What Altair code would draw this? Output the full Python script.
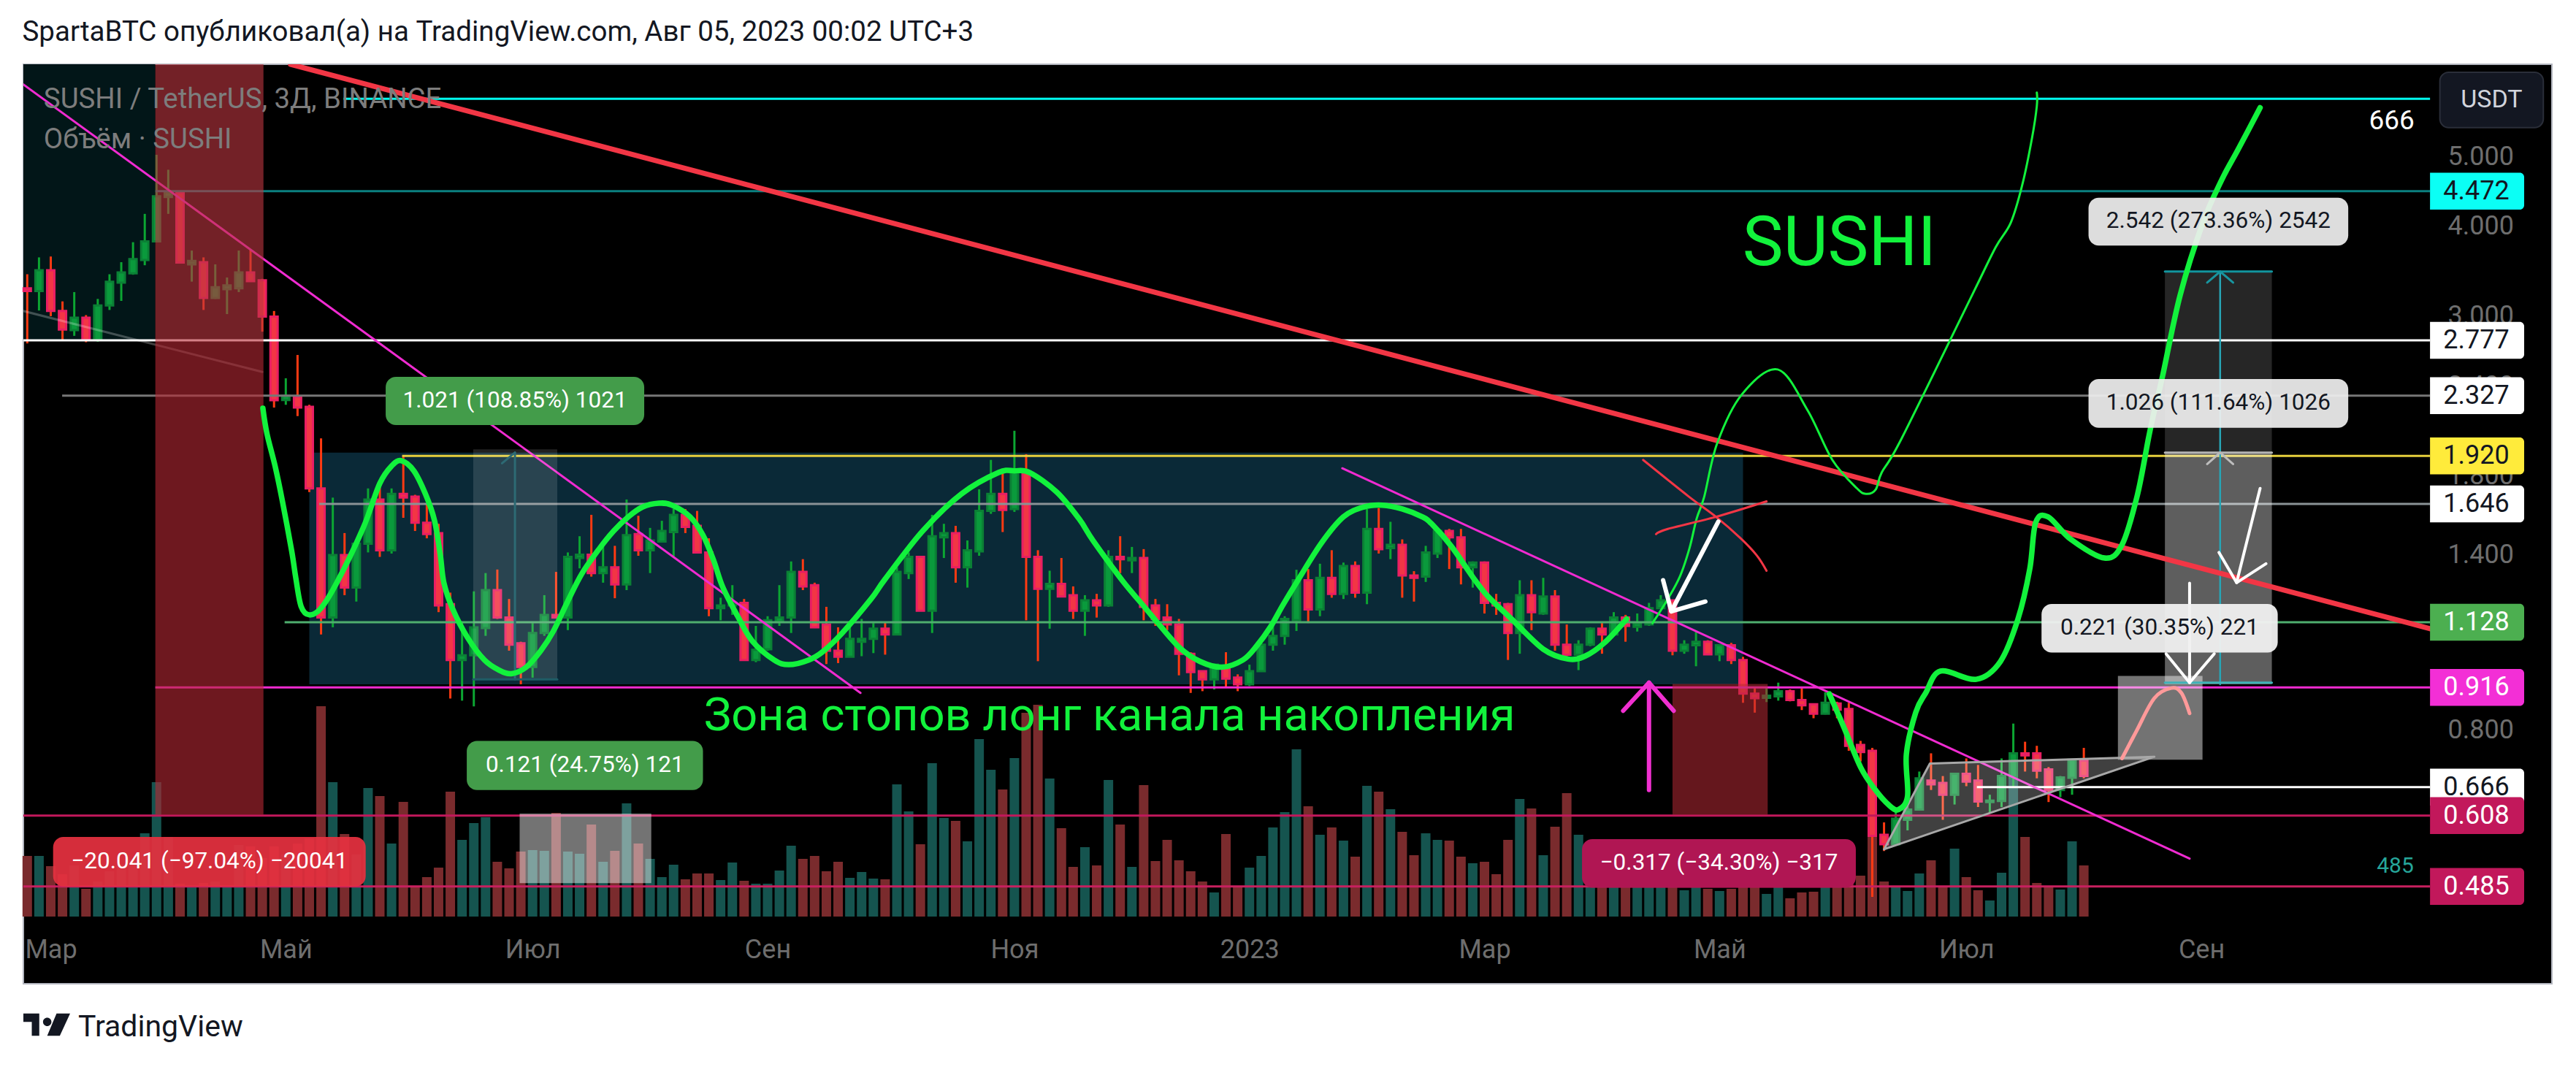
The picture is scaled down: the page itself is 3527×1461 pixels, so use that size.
import math
import altair as alt
import pandas as pd

OPEN = [3.28,3.25,3.475,3.05,2.87,2.985,2.78,3.105,3.34,3.44,
3.59,3.81,4.39,4.45,3.54,3.565,3.18,3.27,3.28,3.45,
3.365,2.995,2.295,2.32,2.245,1.73,1.145,1.398,1.26,1.45,
1.67,1.42,1.70,1.685,1.55,1.50,1.195,1.00,1.015,1.107,
1.25,1.145,1.055,.978,1.09,1.155,1.145,1.385,1.40,1.32,
1.345,1.273,1.495,1.42,1.46,1.505,1.59,1.535,1.41,1.18,
1.19,1.20,1.0,1.035,1.13,1.145,1.325,1.27,1.12,1.03,
1.01,1.06,1.07,1.105,1.085,1.32,1.39,1.17,1.48,1.50,
1.345,1.415,1.61,1.70,1.62,1.82,1.39,1.255,1.275,1.23,
1.17,1.21,1.19,1.39,1.375,1.385,1.19,1.145,1.12,1.02,
.965,.94,.978,.945,.925,.965,1.05,1.08,1.135,1.29,
1.175,1.30,1.235,1.35,1.24,1.52,1.43,1.445,1.31,1.305,
1.405,1.51,1.48,1.345,1.365,1.20,1.195,1.09,1.23,1.16,
1.225,1.05,1.017,1.05,1.105,1.085,1.145,1.112,1.12,1.18,
1.21,1.03,1.048,1.06,1.018,1.048,1.0,.898,.886,.89,
.905,.88,.868,.842,.87,.855,.762,.748,.572,.555,
.60,.62,.68,.675,.65,.695,.68,.635,.637,.687,
.742,.742,.705,.66,.686,.725]
CLOSE = [3.25,3.475,3.05,2.875,2.985,2.78,3.105,3.35,3.45,3.60,
3.81,4.40,4.46,3.56,3.58,3.18,3.29,3.31,3.45,3.355,
2.995,2.293,2.325,2.24,1.73,1.145,1.398,1.26,1.45,1.67,
1.42,1.70,1.68,1.55,1.495,1.19,1.00,1.015,1.11,1.25,
1.145,1.05,.978,1.09,1.155,1.145,1.39,1.40,1.32,1.345,
1.273,1.49,1.42,1.465,1.51,1.59,1.53,1.41,1.18,1.19,
1.20,1.0,1.033,1.135,1.145,1.325,1.265,1.11,1.03,1.01,
1.07,1.07,1.105,1.085,1.325,1.39,1.17,1.485,1.50,1.345,
1.42,1.61,1.70,1.615,1.82,1.39,1.255,1.275,1.225,1.17,
1.21,1.19,1.39,1.38,1.385,1.185,1.14,1.12,1.02,.962,
.94,.985,.942,.925,.965,1.05,1.08,1.14,1.29,1.175,
1.30,1.235,1.35,1.24,1.52,1.425,1.445,1.31,1.30,1.41,
1.51,1.48,1.345,1.365,1.20,1.19,1.09,1.23,1.165,1.225,
1.05,1.017,1.05,1.105,1.085,1.145,1.115,1.125,1.18,1.21,
1.03,1.05,1.06,1.018,1.048,1.0,.898,.885,.892,.905,
.88,.865,.842,.872,.853,.76,.745,.57,.555,.602,
.62,.685,.672,.65,.695,.678,.636,.638,.69,.742,
.737,.702,.66,.687,.727,.69]
HIGH = [3.43,3.62,3.63,3.145,3.24,3.01,3.17,3.43,3.565,3.80,
4.16,5.025,4.79,4.47,3.70,3.62,3.54,3.395,3.70,3.71,
3.38,3.05,2.46,2.65,2.26,2.03,1.68,1.50,1.45,1.73,
1.74,1.73,1.92,1.695,1.65,1.545,1.24,1.13,1.245,1.32,
1.335,1.215,1.06,1.125,1.23,1.325,1.41,1.485,1.59,1.455,
1.44,1.67,1.585,1.525,1.56,1.62,1.62,1.61,1.475,1.22,
1.27,1.215,1.115,1.15,1.27,1.37,1.38,1.28,1.185,1.11,
1.11,1.14,1.125,1.13,1.345,1.41,1.39,1.59,1.545,1.535,
1.465,1.725,1.895,1.82,2.08,1.93,1.42,1.33,1.385,1.265,
1.23,1.235,1.42,1.485,1.435,1.425,1.215,1.195,1.14,1.025,
.965,.985,1.025,.955,.985,1.056,1.115,1.15,1.334,1.337,
1.36,1.42,1.365,1.37,1.62,1.625,1.555,1.47,1.328,1.44,
1.525,1.52,1.52,1.37,1.37,1.235,1.20,1.29,1.29,1.30,
1.25,1.12,1.065,1.11,1.125,1.165,1.155,1.16,1.20,1.23,
1.21,1.065,1.095,1.065,1.05,1.056,1.01,.914,.914,.93,
.91,.914,.868,.902,.875,.872,.772,.755,.595,.62,
.63,.70,.742,.69,.697,.73,.715,.65,.73,.816,
.77,.76,.71,.69,.727,.755]
LOW = [2.75,3.055,3.00,2.78,2.817,2.76,2.765,3.06,3.15,3.425,
3.53,3.81,4.16,3.55,3.35,3.06,3.17,3.02,3.24,3.355,
2.855,2.24,2.26,2.18,1.71,1.085,1.11,1.23,1.205,1.41,
1.39,1.405,1.575,1.51,1.475,1.165,.884,.878,.862,1.08,
1.14,1.03,.925,.945,1.08,1.145,1.10,1.34,1.305,1.28,
1.218,1.25,1.395,1.32,1.46,1.39,1.50,1.405,1.15,1.135,
1.155,.999,.993,1.03,1.115,1.09,1.25,1.107,.987,.99,
1.01,1.012,1.022,1.017,1.085,1.295,1.17,1.09,1.385,1.28,
1.26,1.395,1.595,1.505,1.605,1.135,.996,1.105,1.225,1.14,
1.08,1.145,1.185,1.32,1.32,1.135,1.115,1.10,.952,.90,
.905,.91,.918,.905,.92,.963,1.03,1.05,1.097,1.125,
1.15,1.22,1.215,1.22,1.195,1.405,1.38,1.22,1.205,1.283,
1.385,1.337,1.273,1.26,1.16,1.155,1.0,1.02,1.10,1.155,
1.03,1.012,.968,1.045,1.02,1.085,1.06,1.095,1.115,1.18,
1.015,1.02,.98,1.018,.996,.987,.872,.845,.874,.878,
.876,.852,.83,.84,.83,.748,.723,.469,.543,.553,
.58,.62,.66,.60,.63,.668,.625,.614,.625,.667,
.70,.685,.635,.645,.65,.685]
VOLUME = [83,83,69,58,70,38,48,62,71,78,
114,184,109,45,42,46,48,40,98,96,
80,96,85,100,107,288,184,113,85,176,
165,100,157,42,54,67,171,105,128,136,
75,66,89,91,90,142,89,86,126,75,
90,155,100,79,54,71,51,59,59,50,
74,49,45,45,63,97,79,83,62,75,
53,61,52,51,181,144,99,210,135,131,
103,243,201,174,217,279,290,189,121,68,
95,70,187,126,68,180,76,105,77,62,
48,33,113,41,67,83,122,143,229,151,
112,122,104,82,179,171,147,116,84,114,
105,104,82,73,75,58,105,161,148,84,
123,169,112,70,58,57,55,58,54,49,
54,36,51,38,35,38,51,44,31,54,
25,33,34,40,46,47,56,111,48,41,
35,59,77,42,93,54,36,22,60,190,
109,46,42,37,103,70]

TIME_TICKS = [2,22,43,63,84,104,124,144,165,185]
TIME_LABELS = ["Мар","Май","Июл","Сен","Ноя","2023","Мар","Май","Июл","Сен"]
PRICE_TICKS = [5,4,3,2.4,1.8,1.4,0.8]

LEVEL_PRICE = [6.01,4.472,2.777,2.327,1.92,1.646,1.128,0.916,0.666,0.608,0.485]
LEVEL_START = [26.9,10.9,-0.33,2.97,31.9,24.85,21.9,10.9,165.9,-0.33,-0.33]
LEVEL_COLOR = ["#00fff0","#0b8080","#ffffff","#777777","#e6cf3c","#8a9296","#4fae6e","#f02bd1","#ffffff","#c2185b","#c8205f"]

BOX_PRICE = [4.472,2.777,2.327,1.92,1.646,1.128,0.916,0.666,0.608,0.485]
BOX_FILL = ["#0bfff5","#ffffff","#ffffff","#ffeb3b","#ffffff","#4caf50","#f32fd6","#ffffff","#c2185b","#c2185b"]
BOX_TEXT = ["#131722","#131722","#131722","#131722","#131722","#ffffff","#ffffff","#131722","#ffffff","#ffffff"]

GREEN_A_X = [20.05,20.4,21.1,21.7,22.5,22.85,23.3,24.0,25.0,26.45,28.6,30.0,31.05,31.85,32.9,33.9,34.65,35.15,35.45,36.2,37.45,38.9,40.15,41.2,42.45,43.7,44.75,46.0,47.2,48.65,49.9,51.15,52.35,53.75,54.85,56.4,57.5,58.4,59.2,60.45,61.7,63.55,64.8,66.5,67.7,69.35,71.8,73.0,76.2,79.5,82.65,84.0,85.3,87.6,89.5,90.7,93.2,95.25,96.05,98.05,99.8,101.65,103.45,104.6,105.8,106.85,108.1,110.15,112.0,113.7,115.3,117.0,118.7,119.5,121.15,123.05,124.3,126.3,129.0,131.1,132.55,134.2,136.1]
GREEN_A_P = [2.235,2.06,1.855,1.665,1.417,1.30,1.187,1.155,1.18,1.29,1.527,1.758,1.862,1.89,1.83,1.697,1.563,1.398,1.28,1.177,1.075,1.00,.968,.957,.977,1.03,1.095,1.207,1.318,1.425,1.51,1.58,1.63,1.65,1.64,1.58,1.49,1.375,1.26,1.15,1.062,1.00,.985,1.00,1.027,1.09,1.215,1.295,1.51,1.70,1.82,1.83,1.82,1.71,1.57,1.464,1.288,1.175,1.133,1.04,.995,.977,1.0,1.045,1.112,1.192,1.288,1.455,1.58,1.63,1.64,1.62,1.58,1.545,1.44,1.30,1.225,1.14,1.035,1.003,1.012,1.056,1.14]
GREEN_B_X = [153.35,154.6,156,157.2,158.45,159.25,160,159.9,160.7,161.55,162.8,165.85,167.9,169.4,170.4,170.9,171.95,173.9,176.75,178.25,179.55,180.5,180.9,181.7,183.2,185.15,186.8,188.1,190]
GREEN_B_P = [.897,.805,.71,.662,.628,.62,.647,.74,.846,.90,.965,.94,.995,1.14,1.337,1.55,1.58,1.47,1.385,1.445,1.692,2.03,2.18,2.477,3.21,4.05,4.66,5.10,5.84]
THIN_X = [138.3,139.6,140.65,141.45,142.05,142.7,143.8,145.9,148.95,151.5,153.6,155.7,156.5,157.3,157.8,159.5,165.5,167.5,168.8,169.8,170.6,171,171]
THIN_P = [1.125,1.215,1.308,1.43,1.57,1.685,1.998,2.336,2.53,2.22,1.895,1.73,1.70,1.725,1.82,2.03,3.21,3.74,4.05,4.59,5.31,5.87,6.13]
RED_A_X = [138.6,139.6,143.7,148]
RED_A_P = [1.495,1.52,1.58,1.66]
RED_B_X = [137.5,141.4,143.7,145.8,147.15,148]
RED_B_P = [1.895,1.685,1.58,1.475,1.398,1.33]
PINK_X = [178.25,179.5,181,182.45,183.3,184]
PINK_P = [.73,.798,.885,.914,.90,.843]

# Widths and heights of the drawing
W, H = 3462, 1259
X_DOM = [-0.33, 214.83]
P_DOM = [0.3553, 6.71]
V_DOM = [-92, 1167]
XEND = 204.46
FONT = "Roboto"

XS = alt.Scale(domain=X_DOM, nice=False, zero=False, padding=0)
PS = alt.Scale(type="log", domain=P_DOM, nice=False, zero=False, padding=0)

def X(f="x"):
    return alt.X(f, type="quantitative", scale=XS, axis=None)

def Y(f="y"):
    return alt.Y(f, type="quantitative", scale=PS, axis=None)

def rect(x0, x1, p0, p1, color, opacity=1.0, **kw):
    d = pd.DataFrame({"x": [x0], "x2": [x1], "y": [p0], "y2": [p1]})
    return alt.Chart(d).mark_rect(color=color, opacity=opacity, **kw).encode(
        x=X(), x2="x2:Q", y=Y(), y2="y2:Q")

def line(xs, ps, color, width, interp="linear", opacity=1.0):
    d = pd.DataFrame({"x": xs, "y": ps, "n": range(len(xs))})
    return alt.Chart(d).mark_line(color=color, strokeWidth=width, interpolate=interp,
                                  opacity=opacity, strokeCap="round", strokeJoin="round",
                                  clip=True).encode(
        x=X(), y=Y(), order=alt.Order("n:Q"))

def label(x, p, text, color, size, weight="normal", align="center", baseline="middle"):
    d = pd.DataFrame({"x": [x], "y": [p], "t": [text]})
    return alt.Chart(d).mark_text(color=color, fontSize=size, font=FONT, fontWeight=weight,
                                  align=align, baseline=baseline).encode(
        x=X(), y=Y(), text="t:N")

layers = []

# first layer carries both real axes
label_map = "{" + ",".join('"%d":"%s"' % (t, l) for t, l in zip(TIME_TICKS, TIME_LABELS)) + "}"
axis_x = alt.Axis(values=TIME_TICKS, orient="bottom",
                  labelExpr=label_map + "[''+datum.value]",
                  labelPadding=-64, tickSize=0, domain=False, grid=False, title=None,
                  labelFontSize=36, labelFont=FONT, labelColor="#6e6e6e", labelOverlap=False,
                  labelFlush=False, zindex=1)
axis_y = alt.Axis(orient="right", values=PRICE_TICKS, format=".3f", labelPadding=-143, tickSize=0,
                  domain=False, grid=False, title=None, labelFontSize=36, labelFont=FONT,
                  labelColor="#6e6e6e", labelOverlap=False, labelFlush=False)
bg = pd.DataFrame({"x": [X_DOM[0]], "x2": [10.9], "y": [P_DOM[1]], "y2": [2.777]})
layers.append(alt.Chart(bg).mark_rect(color="#021618").encode(
    x=alt.X("x", type="quantitative", scale=XS, axis=axis_x), x2="x2:Q",
    y=alt.Y("y", type="quantitative", scale=PS, axis=axis_y), y2="y2:Q"))

layers.append(rect(24, 146, 1.94, 0.925, "#0a2937"))

idx = list(range(len(OPEN)))
up = [c >= o for o, c in zip(OPEN, CLOSE)]
candles = pd.DataFrame({
    "x": idx, "o": OPEN, "h": HIGH, "l": LOW, "c": CLOSE, "v": VOLUME, "v0": [0] * len(idx),
    "wick": ["#0ca632" if u else "#ff3a12" for u in up],
    "fill": ["#0a9a3c" if u else "#f23645" for u in up],
    "edge": ["#0b8035" if u else "#e91e63" for u in up],
    "vol": ["#15544f" if u else "#7a2b2d" for u in up],
})

# volume
layers.append(alt.Chart(candles).mark_bar(size=13, orient="vertical").encode(
    x=X(),
    y=alt.Y("v", type="quantitative", scale=alt.Scale(domain=V_DOM, nice=False, zero=False), axis=None),
    y2="v0:Q",
    color=alt.Color("vol:N", scale=None)))

# candles
layers.append(alt.Chart(candles).mark_rule(strokeWidth=3).encode(
    x=X(), y=Y("l"), y2="h:Q", color=alt.Color("wick:N", scale=None)))
layers.append(alt.Chart(candles).mark_bar(size=10, strokeWidth=3, orient="vertical").encode(
    x=X(), y=Y("o"), y2="c:Q",
    fill=alt.Fill("fill:N", scale=None), stroke=alt.Stroke("edge:N", scale=None)))

# horizontal levels
levels = pd.DataFrame({"x": LEVEL_START, "x2": [XEND] * len(LEVEL_START), "y": LEVEL_PRICE, "c": LEVEL_COLOR})
layers.append(alt.Chart(levels).mark_rule(strokeWidth=3).encode(
    x=X(), x2="x2:Q", y=Y(), color=alt.Color("c:N", scale=None)))

# trend lines
layers.append(line([-0.33, 20], [3.05, 2.51], "#ffffff", 3, opacity=0.25))
layers.append(line([-0.33, 70.9], [6.29, 0.90], "#f02bd1", 3))
layers.append(line([111.9, 184], [1.845, 0.53], "#f02bd1", 3))

# shaded boxes laid over the candles
layers.append(rect(10.9, 20.1, P_DOM[1], 0.61, "#b82834", 0.6))
layers.append(rect(10.9, 20.1, P_DOM[1], 2.777, "#ffffff", 0.04))
layers.append(rect(140, 148.1, 0.926, 0.61, "#b82a34", 0.55))
layers.append(rect(37.95, 45.1, 1.96, 0.94, "#ffffff", 0.13))
layers.append(rect(41.9, 53.1, 0.612, 0.49, "#ffffff", 0.45))
layers.append(rect(181.9, 191, 3.46, 1.94, "#ffffff", 0.15))
layers.append(rect(181.9, 191, 1.94, 0.925, "#ffffff", 0.37))
layers.append(rect(177.9, 185.1, 0.95, 0.727, "#ffffff", 0.45))

# range tool lines
layers.append(line([41.5, 41.5], [1.94, 0.94], "#2d6a74", 3))
layers.append(line([40.4, 41.5], [1.875, 1.94], "#2d6a74", 3))
layers.append(line([37.95, 45.1], [0.94, 0.94], "#1f5c66", 3))
layers.append(line([186.6, 186.6], [3.46, 0.925], "#27a5b5", 2.5))
layers.append(line([185.5, 186.6, 187.7], [3.34, 3.46, 3.34], "#18959f", 3))
layers.append(line([185.5, 186.6, 187.7], [1.87, 1.94, 1.87], "#bdbdbd", 3))
layers.append(line([181.9, 191], [3.46, 3.46], "#12959e", 3))
layers.append(line([181.9, 191], [1.94, 1.94], "#b5b5b5", 3))
layers.append(line([181.9, 191], [0.93, 0.93], "#3fb3b8", 3))

# triangle
tri = pd.DataFrame({"x": [158, 161.9, 181], "y": [0.546, 0.718, 0.734], "y2": [0.546, 0.575, 0.734]})
layers.append(alt.Chart(tri).mark_area(color="#ffffff", opacity=0.25).encode(x=X(), y=Y(), y2="y2:Q"))
layers.append(line([158, 161.9, 181, 158], [0.546, 0.718, 0.734, 0.546], "#a8a8a8", 3))

# long red trend line
layers.append(line([22.4, XEND], [6.71, 1.105], "#f23645", 7))

# hand-drawn curves
layers.append(line(GREEN_A_X, GREEN_A_P, "#12f23c", 7.5, "cardinal"))
layers.append(line(GREEN_B_X, GREEN_B_P, "#12f23c", 7.5, "cardinal"))
layers.append(line(THIN_X, THIN_P, "#12f23c", 3, "cardinal"))
layers.append(line(RED_A_X, RED_A_P, "#f23645", 3, "cardinal"))
layers.append(line(RED_B_X, RED_B_P, "#f23645", 3, "cardinal"))
layers.append(line(PINK_X, PINK_P, "#ff9a9a", 5, "cardinal"))

# arrows
layers.append(line([143.9, 139.9], [1.556, 1.168], "#ffffff", 6))
layers.append(line([139.2, 139.9, 142.8], [1.29, 1.168, 1.205], "#ffffff", 6))
layers.append(line([190, 188], [1.73, 1.28], "#ffffff", 4))
layers.append(line([186.5, 188, 190.5], [1.41, 1.28, 1.36], "#ffffff", 4))
layers.append(line([184, 184], [1.278, 0.93], "#ffffff", 4))
layers.append(line([182, 184, 186.1], [1.02, 0.93, 1.02], "#ffffff", 4))
layers.append(line([138, 138], [0.66, 0.93], "#f030d0", 6))
layers.append(line([135.8, 138, 140.1], [0.85, 0.93, 0.85], "#f030d0", 6))

# measure labels
PILLS = [
    (30.5, 52.5, 2.471, 2.118, "#439c4a", 1.0, "1.021 (108.85%) 1021", "#ffffff"),
    (37.4, 57.5, 0.772, 0.66, "#439c4a", 1.0, "0.121 (24.75%) 121", "#ffffff"),
    (2.2, 28.8, 0.568, 0.485, "#e5303f", 0.93, "−20.041 (−97.04%) −20041", "#ffffff"),
    (132.3, 155.6, 0.564, 0.483, "#b01653", 1.0, "−0.317 (−34.30%) −317", "#ffffff"),
    (171.4, 191.5, 1.196, 1.024, "#f0f0f0", 0.95, "0.221 (30.35%) 221", "#131722"),
    (175.4, 197.5, 2.454, 2.10, "#f0f0f0", 0.92, "1.026 (111.64%) 1026", "#131722"),
    (175.4, 197.5, 4.38, 3.76, "#f0f0f0", 0.92, "2.542 (273.36%) 2542", "#131722"),
]
for x0, x1, p0, p1, col, op, txt, tcol in PILLS:
    layers.append(rect(x0, x1, p0, p1, col, op, cornerRadius=14))
    layers.append(label((x0 + x1) / 2, math.sqrt(p0 * p1), txt, tcol, 31.5))

# free text
layers.append(label(154.2, 3.77, "SUSHI", "#12f23c", 94))
layers.append(label(92.1, 0.835, "Зона стопов лонг канала накопления", "#12f23c", 63))
layers.append(label(201.2, 5.595, "666", "#ffffff", 37))
layers.append(label(201.5, 0.517, "485", "#26a69a", 30))
layers.append(label(1.4, 6.0, "SUSHI / TetherUS, 3Д, BINANCE", "#7d7d7d", 38.4, align="left"))
layers.append(label(1.4, 5.28, "Объём · SUSHI", "#7d7d7d", 38.4, align="left"))

# price boxes
boxes = pd.DataFrame({"x": [XEND] * len(BOX_PRICE), "x2": [212.47] * len(BOX_PRICE),
                      "y": [p * 1.0607 for p in BOX_PRICE], "y2": [p / 1.0607 for p in BOX_PRICE],
                      "p": BOX_PRICE, "fill": BOX_FILL, "txt": BOX_TEXT,
                      "xt": [208.4] * len(BOX_PRICE),
                      "t": ["%.3f" % p for p in BOX_PRICE]})
layers.append(alt.Chart(boxes).mark_rect(cornerRadiusTopRight=6, cornerRadiusBottomRight=6).encode(
    x=X(), x2="x2:Q", y=Y(), y2="y2:Q", color=alt.Color("fill:N", scale=None)))
layers.append(alt.Chart(boxes).mark_text(fontSize=36, font=FONT, baseline="middle", align="center").encode(
    x=X("xt"), y=Y("p"), text="t:N", color=alt.Color("txt:N", scale=None)))

# currency button
layers.append(rect(205.3, 214.1, 6.54, 5.48, "#131722", cornerRadius=12, stroke="#2a2e39", strokeWidth=2))
layers.append(label(209.7, 5.99, "USDT", "#d1d4dc", 34))

# footer
foot = pd.DataFrame({"t": ["TradingView"]})
layers.append(alt.Chart(foot).mark_text(fontSize=41, font=FONT, color="#131722", align="left", baseline="middle").encode(
    x=alt.value(75), y=alt.value(1319), text="t:N"))
LOGO = "M-1 -.48H-.32V.48H-.64V-.12H-1Z M.02 -.3A.18 .18 0 1 0 .021 -.3Z M.42 -.48H1L.56 .48H.02Z"
layers.append(alt.Chart(foot).mark_point(shape=LOGO, filled=True, color="#131722", size=4096, opacity=1).encode(
    x=alt.value(32), y=alt.value(1315)))

chart = alt.layer(*layers).resolve_scale(y="independent").resolve_axis(x="independent").properties(
    width=W, height=H,
    padding={"left": 24, "top": 80, "right": 25, "bottom": 106},
    autosize=alt.AutoSizeParams(type="none"),
    background="#ffffff",
    title=alt.TitleParams(
        text="SpartaBTC опубликовал(а) на TradingView.com, Авг 05, 2023 00:02 UTC+3",
        anchor="start", offset=24, font=FONT, fontSize=38.5, fontWeight="normal", color="#131722"),
).configure_view(fill="#000000", stroke="#b2b5be", strokeWidth=2)

chart.save("out.html", embed_options={"renderer": "svg", "actions": False})
